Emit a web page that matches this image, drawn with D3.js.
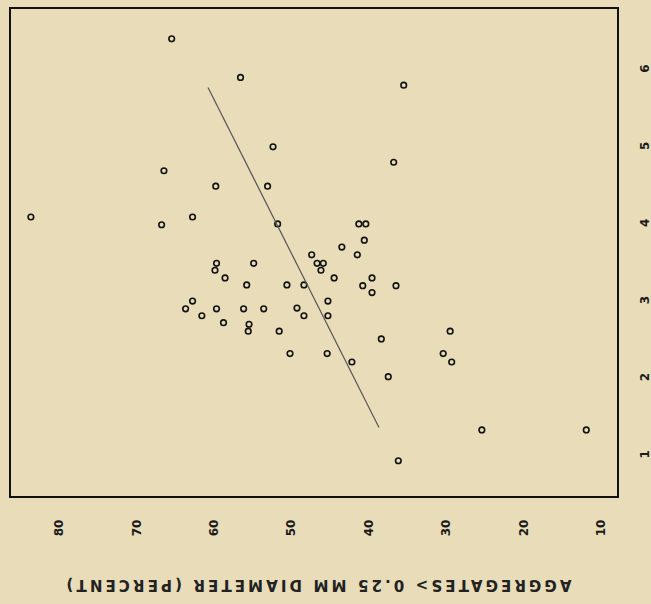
<!DOCTYPE html>
<html>
<head>
<meta charset="utf-8">
<script src="https://cdn.jsdelivr.net/npm/d3@7"></script>
<style>
    body { margin: 0; background: #e8dcb9; }
    svg { display: block; }
</style>
</head>
<body>
<svg id="canvas" width="651" height="604"></svg>
<script>
// aggregates > 0.25 mm (percent) and the y value of each sample
let aggregatePct = [65.4, 56.5, 35.4, 52.3, 36.7, 66.4, 59.7, 53.0, 83.6, 62.7,
                    66.7, 51.7, 41.2, 40.3, 40.5, 43.4, 47.3, 41.4, 46.6, 45.8,
                    59.6, 54.8, 46.1, 59.8, 58.5, 44.4, 39.5, 55.7, 50.5, 48.3,
                    40.7, 36.4, 62.7, 45.2, 63.6, 59.6, 56.1, 53.5, 49.2, 39.5,
                    61.5, 48.3, 45.2, 58.7, 55.4, 55.5, 51.5, 29.4, 38.3, 50.1,
                    45.3, 30.3, 42.1, 29.2, 37.4, 25.3, 11.8, 36.1];
let yValues = [6.38, 5.88, 5.78, 4.98, 4.78, 4.67, 4.47, 4.47, 4.07, 4.07,
               3.97, 3.98, 3.98, 3.98, 3.77, 3.68, 3.58, 3.58, 3.47, 3.47,
               3.47, 3.47, 3.38, 3.38, 3.28, 3.28, 3.28, 3.19, 3.19, 3.19,
               3.18, 3.18, 2.98, 2.98, 2.88, 2.88, 2.88, 2.88, 2.89, 3.09,
               2.79, 2.79, 2.79, 2.70, 2.68, 2.59, 2.59, 2.59, 2.49, 2.30,
               2.30, 2.30, 2.19, 2.19, 2.00, 1.31, 1.31, 0.91];

// fitted line end points
let lineX = [60.7, 38.6];
let lineY = [5.75, 1.34];

let xTicks = [80, 70, 60, 50, 40, 30, 20, 10];
let yTicks = [1, 2, 3, 4, 5, 6];
let xTitle = 'AGGREGATES> 0.25 MM  DIAMETER (PERCENT)';

let canvas = d3.select('#canvas');

let frame = { left: 10, top: 8, right: 618, bottom: 497 };

let xScale = d3.scaleLinear()
                .domain([86.3, 7.7])
                .range([frame.left, frame.right]);
let yScale = d3.scaleLinear()
                .domain([0.44, 6.78])
                .range([frame.bottom, frame.top]);

let drawFrame = () => {
    canvas.append('rect')
            .attr('x', frame.left)
            .attr('y', frame.top)
            .attr('width', frame.right - frame.left)
            .attr('height', frame.bottom - frame.top)
            .attr('fill', 'none')
            .attr('stroke', '#111')
            .attr('stroke-width', 2);
};

let drawAxes = () => {
    let xAxis = d3.axisBottom(xScale).tickValues(xTicks).tickSize(0).tickFormat(d3.format('d'));
    let xGroup = canvas.append('g')
                        .attr('transform', 'translate(0, 528)')
                        .call(xAxis);
    xGroup.select('.domain').remove();
    xGroup.selectAll('text')
            .attr('y', 0)
            .attr('dy', '0.35em')
            .attr('text-anchor', 'middle')
            .attr('transform', 'rotate(-90)');

    let yAxis = d3.axisRight(yScale).tickValues(yTicks).tickSize(0).tickFormat(d3.format('d'));
    let yGroup = canvas.append('g')
                        .attr('transform', 'translate(645, 0)')
                        .call(yAxis);
    yGroup.select('.domain').remove();
    yGroup.selectAll('text')
            .attr('x', 0)
            .attr('dy', '0.35em')
            .attr('text-anchor', 'middle')
            .attr('transform', 'rotate(-90)');

    canvas.selectAll('.tick text')
            .style('font-family', 'DejaVu Sans')
            .style('font-weight', 'bold')
            .style('font-size', '12px')
            .attr('fill', '#1a1a1a');

    // title is printed upside down like the rest of the page
    canvas.append('text')
            .text(xTitle)
            .attr('transform', 'translate(319, 585) rotate(180)')
            .attr('text-anchor', 'middle')
            .attr('dy', '0.35em')
            .attr('textLength', 505)
            .attr('lengthAdjust', 'spacing')
            .style('font-family', 'DejaVu Sans')
            .style('font-weight', 'bold')
            .style('font-size', '15px')
            .attr('fill', '#222');
};

let drawPoints = () => {
    let points = aggregatePct.map((x, i) => ({ x: x, y: yValues[i] }));

    canvas.selectAll('circle')
            .data(points)
            .enter()
            .append('circle')
            .attr('cx', (d) => xScale(d.x))
            .attr('cy', (d) => yScale(d.y))
            .attr('r', 2.8)
            .attr('fill', 'none')
            .attr('stroke', '#111')
            .attr('stroke-width', 1.6);

    let line = d3.line()
                    .x((d) => xScale(d[0]))
                    .y((d) => yScale(d[1]));

    canvas.append('path')
            .attr('d', line(d3.zip(lineX, lineY)))
            .attr('fill', 'none')
            .attr('stroke', '#555')
            .attr('stroke-width', 1.2);
};

drawFrame();
drawAxes();
drawPoints();
</script>
</body>
</html>
